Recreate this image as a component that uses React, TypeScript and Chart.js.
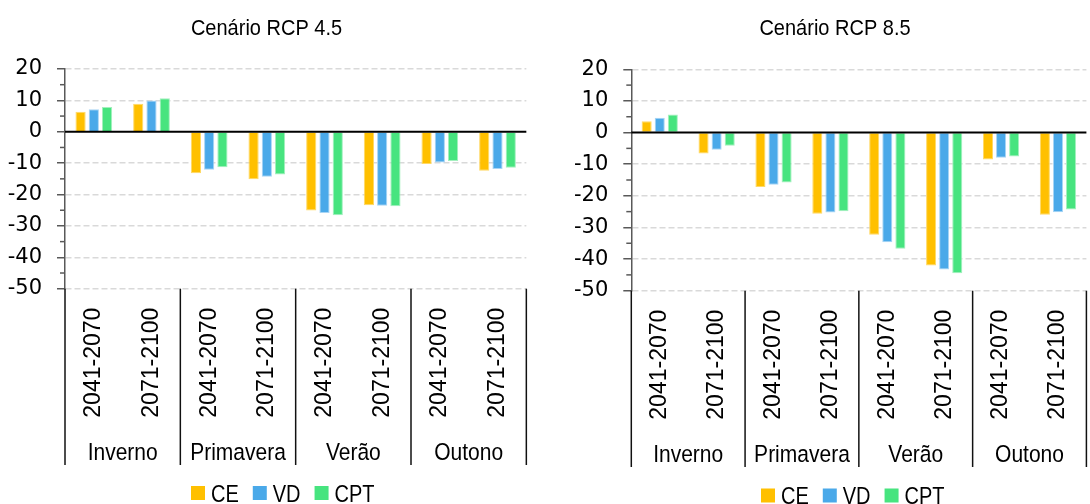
import React, { useEffect, useRef } from 'react';
import { Chart, registerables } from 'chart.js';

Chart.register(...registerables);

// ---------- data ----------
const periods = ['2041-2070', '2071-2100', '2041-2070', '2071-2100', '2041-2070', '2071-2100', '2041-2070', '2071-2100'];
const seasons = ['Inverno', 'Primavera', 'Verão', 'Outono'];
const seriesNames = ['CE', 'VD', 'CPT'];

const rcp45CE = [6.4, 8.9, -13.2, -15.1, -25.1, -23.4, -10.3, -12.4];
const rcp45VD = [7.2, 10.0, -12.1, -14.3, -25.9, -23.6, -9.8, -11.9];
const rcp45CPT = [7.9, 10.7, -11.3, -13.6, -26.6, -23.7, -9.3, -11.5];

const rcp85CE = [3.6, -6.6, -17.2, -25.7, -32.3, -42.0, -8.5, -26.0];
const rcp85VD = [4.7, -5.4, -16.5, -25.3, -34.7, -43.3, -8.0, -25.2];
const rcp85CPT = [5.7, -4.2, -15.8, -24.9, -36.7, -44.5, -7.6, -24.3];

const yMin = -50;
const yMax = 20;
const yStep = 5;

// ---------- styles ----------
const fills = ['#FFC000', '#4AA9E9', '#47E47F'];
const borders = ['#FFD966', '#A8D5F5', '#A3F0BE'];
const FONT = "'Liberation Sans', Arial, sans-serif";

type PanelCfg = {
  title: string;
  series: number[][];
  left: number;
  width: number;
  axisWidth: number;
  top: number;
  bottom: number;
  rightPad: number;
  titleX: number;
  legendX: number;
  legendY: number;
  groupBaseline: number;
  sepBottom: number;
};

function stretchText(ctx: CanvasRenderingContext2D, text: string, x: number, y: number, sy: number) {
  ctx.save();
  ctx.translate(x, y);
  ctx.scale(1, sy);
  ctx.fillText(text, 0, 0);
  ctx.restore();
}

function makeDecor(cfg: PanelCfg) {
  return {
    id: 'decor',
    afterDatasetsDraw(chart: any) {
      const { ctx, chartArea: ca, scales } = chart;
      const y0 = scales.y.getPixelForValue(0);
      ctx.save();
      ctx.strokeStyle = '#000';
      ctx.lineWidth = 2;
      ctx.beginPath();
      ctx.moveTo(ca.left, y0);
      ctx.lineTo(ca.right, y0);
      ctx.stroke();
      ctx.restore();
    },
    afterDraw(chart: any) {
      const { ctx, chartArea: ca, scales } = chart;
      const xs = scales.x;
      const ys = scales.y;
      ctx.save();
      // minor ticks
      ctx.strokeStyle = '#595959';
      ctx.lineWidth = 1.5;
      for (let v = yMin + yStep; v < yMax; v += 2 * yStep) {
        const py = ys.getPixelForValue(v);
        ctx.beginPath();
        ctx.moveTo(ca.left - 5, py);
        ctx.lineTo(ca.left, py);
        ctx.stroke();
      }
      // group separators
      const cw = xs.getPixelForTick(1) - xs.getPixelForTick(0);
      ctx.strokeStyle = '#111';
      ctx.lineWidth = 1.5;
      for (let g = 0; g <= seasons.length; g++) {
        const px = g < seasons.length ? xs.getPixelForTick(2 * g) - cw / 2 : xs.getPixelForTick(2 * g - 1) + cw / 2;
        ctx.beginPath();
        ctx.moveTo(px, ca.bottom);
        ctx.lineTo(px, cfg.sepBottom);
        ctx.stroke();
      }
      // group labels
      ctx.fillStyle = '#000';
      ctx.font = `21px ${FONT}`;
      ctx.textAlign = 'center';
      ctx.textBaseline = 'alphabetic';
      seasons.forEach((s, g) => {
        const cx = (xs.getPixelForTick(2 * g) + xs.getPixelForTick(2 * g + 1)) / 2;
        stretchText(ctx, s, cx, cfg.groupBaseline, 1.15);
      });
      // title
      ctx.font = `20px ${FONT}`;
      stretchText(ctx, cfg.title, cfg.titleX, 34.5, 1.1);
      // legend
      ctx.textAlign = 'left';
      ctx.font = `20px ${FONT}`;
      let lx = cfg.legendX;
      seriesNames.forEach((n, i) => {
        ctx.fillStyle = fills[i];
        ctx.fillRect(lx, cfg.legendY, 14, 14);
        ctx.fillStyle = '#000';
        stretchText(ctx, n, lx + 20, cfg.legendY + 15.5, 1.2);
        lx += 20 + ctx.measureText(n).width + 14;
      });
      ctx.restore();
    },
  };
}

function Panel({ cfg }: { cfg: PanelCfg }) {
  const ref = useRef<HTMLCanvasElement | null>(null);
  useEffect(() => {
    if (!ref.current) return;
    const chart = new Chart(ref.current, {
      type: 'bar',
      data: {
        labels: periods,
        datasets: seriesNames.map((name, i) => ({
          label: name,
          data: cfg.series[i],
          backgroundColor: fills[i],
          borderColor: borders[i],
          borderWidth: 1,
          categoryPercentage: 0.69,
          barPercentage: 0.77,
        })),
      },
      options: {
        responsive: false,
        animation: false,
        events: [],
        layout: { padding: { top: cfg.top, left: 0, right: cfg.rightPad, bottom: 0 } },
        plugins: { legend: { display: false }, title: { display: false }, tooltip: { enabled: false } },
        scales: {
          x: {
            grid: { display: false, drawTicks: false },
            border: { display: false },
            ticks: {
              color: '#000',
              font: { family: FONT, size: 23 },
              minRotation: 90,
              maxRotation: 90,
              autoSkip: false,
              padding: 19,
            },
            afterFit: (s: any) => {
              s.height = 504 - cfg.bottom;
            },
          },
          y: {
            min: yMin,
            max: yMax,
            grid: {
              color: (c: any) => (c.tick && c.tick.value % 10 === 0 && c.tick.value !== 0 ? '#D9D9D9' : 'rgba(0,0,0,0)'),
              lineWidth: 1.5,
              tickLength: 8,
              tickWidth: 1.5,
              tickColor: (c: any) => (c.tick && c.tick.value % 10 === 0 ? '#595959' : 'rgba(0,0,0,0)'),
            },
            border: { display: true, color: '#595959', width: 1.5, dash: [6, 3] },
            ticks: {
              stepSize: yStep,
              autoSkip: false,
              color: '#000',
              padding: 15,
              font: { family: "'DejaVu Sans', sans-serif", size: 21 },
              callback: (v: any) => (Number(v) % 10 === 0 ? String(v) : ''),
            },
            afterFit: (s: any) => {
              s.width = cfg.axisWidth;
            },
          },
        },
      },
      plugins: [makeDecor(cfg)],
    });
    return () => chart.destroy();
  }, []);
  return (
    <div style={{ position: 'absolute', left: cfg.left, top: 0, width: cfg.width, height: 504 }}>
      <canvas ref={ref} width={cfg.width} height={504} style={{ width: cfg.width, height: 504, display: 'block' }} />
    </div>
  );
}

const leftCfg: PanelCfg = {
  title: 'Cenário RCP 4.5',
  series: [rcp45CE, rcp45VD, rcp45CPT],
  left: 0,
  width: 545,
  axisWidth: 65,
  top: 69,
  bottom: 288.7,
  rightPad: 14.4,
  titleX: 266.5,
  legendX: 191,
  legendY: 486,
  groupBaseline: 460,
  sepBottom: 465,
};

const rightCfg: PanelCfg = {
  title: 'Cenário RCP 8.5',
  series: [rcp85CE, rcp85VD, rcp85CPT],
  left: 545,
  width: 560,
  axisWidth: 86.3,
  top: 69.3,
  bottom: 290.7,
  rightPad: 7,
  titleX: 290,
  legendX: 216,
  legendY: 488.5,
  groupBaseline: 462,
  sepBottom: 467,
};

export default function App() {
  return (
    <div style={{ position: 'absolute', left: 0, top: 0, width: 1090, height: 504, overflow: 'hidden', background: '#fff' }}>
      <Panel cfg={leftCfg} />
      <Panel cfg={rightCfg} />
    </div>
  );
}
